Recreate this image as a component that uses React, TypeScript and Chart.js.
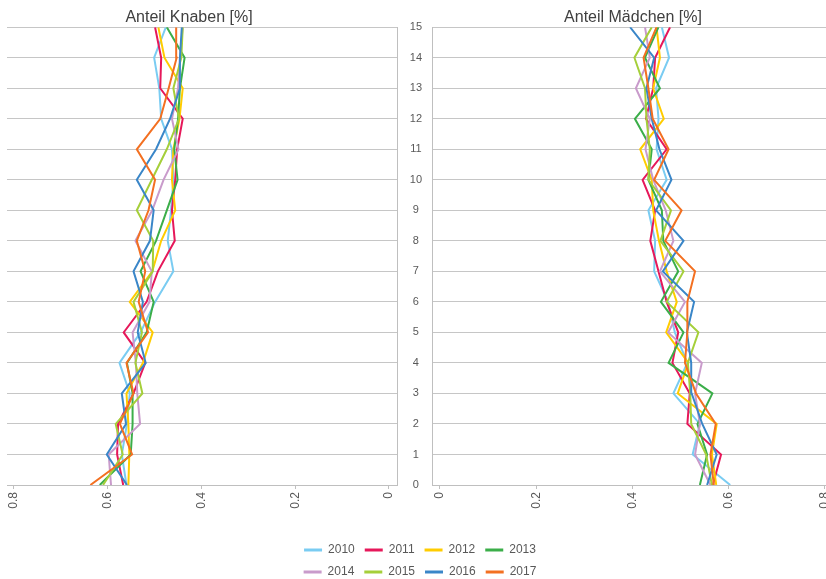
import React, { useEffect, useRef } from "react";
import { Chart, registerables } from "chart.js";

Chart.register(...registerables);

// ---- data ----
const years = ["2010", "2011", "2012", "2013", "2014", "2015", "2016", "2017"];
const colors = ["#7ACCF2", "#E6185A", "#FFCC00", "#3BAE49", "#C99BCB", "#A5CF3A", "#3A86C8", "#F37021"];
const ages = [0, 1, 2, 3, 4, 5, 6, 7, 8, 9, 10, 11, 12, 13, 14, 15];
const xTickValues = [0, 0.2, 0.4, 0.6, 0.8];

// Anteil Knaben [%] by age 0..15
const boys2010 = [0.56, 0.57, 0.559, 0.553, 0.575, 0.53, 0.499, 0.46, 0.472, 0.465, 0.46, 0.463, 0.486, 0.49, 0.501, 0.476];
const boys2011 = [0.567, 0.58, 0.578, 0.545, 0.52, 0.566, 0.517, 0.493, 0.457, 0.463, 0.456, 0.452, 0.44, 0.488, 0.486, 0.499];
const boys2012 = [0.556, 0.554, 0.556, 0.56, 0.525, 0.504, 0.553, 0.505, 0.486, 0.456, 0.463, 0.46, 0.447, 0.44, 0.479, 0.492];
const boys2013 = [0.617, 0.551, 0.547, 0.547, 0.559, 0.517, 0.502, 0.53, 0.497, 0.474, 0.451, 0.458, 0.45, 0.446, 0.436, 0.474];
const boys2014 = [0.593, 0.598, 0.531, 0.537, 0.54, 0.547, 0.511, 0.506, 0.541, 0.505, 0.481, 0.449, 0.463, 0.45, 0.446, 0.44];
const boys2015 = [0.61, 0.568, 0.583, 0.526, 0.541, 0.527, 0.545, 0.504, 0.503, 0.538, 0.506, 0.474, 0.448, 0.46, 0.443, 0.44];
const boys2016 = [0.559, 0.602, 0.561, 0.57, 0.519, 0.536, 0.525, 0.545, 0.51, 0.502, 0.538, 0.497, 0.467, 0.446, 0.446, 0.442];
const boys2017 = [0.637, 0.548, 0.574, 0.545, 0.56, 0.514, 0.534, 0.52, 0.538, 0.513, 0.499, 0.538, 0.488, 0.47, 0.453, 0.454];

// Anteil Mädchen [%] by age 0..15
const girls2010 = [0.603, 0.525, 0.54, 0.485, 0.514, 0.488, 0.474, 0.445, 0.447, 0.433, 0.471, 0.45, 0.454, 0.449, 0.476, 0.461];
const girls2011 = [0.567, 0.584, 0.514, 0.519, 0.483, 0.495, 0.471, 0.454, 0.437, 0.447, 0.421, 0.471, 0.428, 0.443, 0.447, 0.478];
const girls2012 = [0.574, 0.565, 0.575, 0.494, 0.516, 0.47, 0.492, 0.471, 0.455, 0.443, 0.44, 0.416, 0.465, 0.443, 0.457, 0.45];
const girls2013 = [0.54, 0.555, 0.535, 0.566, 0.475, 0.506, 0.459, 0.495, 0.464, 0.461, 0.433, 0.44, 0.405, 0.457, 0.426, 0.454];
const girls2014 = [0.562, 0.53, 0.54, 0.53, 0.544, 0.474, 0.509, 0.457, 0.485, 0.469, 0.443, 0.427, 0.436, 0.407, 0.436, 0.426];
const girls2015 = [0.565, 0.553, 0.522, 0.52, 0.515, 0.537, 0.471, 0.506, 0.458, 0.48, 0.433, 0.436, 0.429, 0.426, 0.404, 0.44];
const girls2016 = [0.555, 0.575, 0.545, 0.523, 0.522, 0.513, 0.528, 0.463, 0.506, 0.449, 0.481, 0.456, 0.44, 0.429, 0.445, 0.395];
const girls2017 = [0.569, 0.562, 0.573, 0.532, 0.509, 0.514, 0.514, 0.53, 0.468, 0.502, 0.445, 0.475, 0.442, 0.433, 0.423, 0.45];

const boysSeries = [boys2010, boys2011, boys2012, boys2013, boys2014, boys2015, boys2016, boys2017];
const girlsSeries = [girls2010, girls2011, girls2012, girls2013, girls2014, girls2015, girls2016, girls2017];

Chart.defaults.font.family = "'Liberation Sans', Arial, sans-serif";

const GRID = "#c6c6c6";
const AXIS = "#bfbfbf";
const TICK = "#595959";

function makeDatasets(series: number[][]) {
  return years.map((yr, i) => ({
    label: yr,
    data: ages.map((a, j) => ({ x: series[i][j], y: a })),
    borderColor: colors[i],
    backgroundColor: colors[i],
    borderWidth: 2,
    pointRadius: 0,
    tension: 0,
    fill: false,
    order: years.length - 1 - i,
  }));
}

function xScale(reverse: boolean, min: number, max: number) {
  return {
    type: "linear",
    reverse,
    min,
    max,
    afterBuildTicks: (s: any) => {
      s.ticks = xTickValues.map((v) => ({ value: v }));
    },
    afterFit: (s: any) => {
      s.height = 45;
      s.paddingLeft = 0;
      s.paddingRight = 0;
    },
    grid: { drawOnChartArea: false, drawTicks: true, tickLength: 4, color: AXIS },
    border: { display: true, color: AXIS },
    ticks: { color: TICK, font: { size: 12 }, minRotation: 90, maxRotation: 90, padding: 3, autoSkip: false },
  };
}

function titleOpts(text: string) {
  return {
    display: true,
    text,
    color: "#404040",
    font: { size: 16, weight: "normal" },
    padding: { top: 8, bottom: 0 },
  };
}

export default function App() {
  const leftRef = useRef<HTMLCanvasElement>(null);
  const rightRef = useRef<HTMLCanvasElement>(null);
  const legRef = useRef<HTMLCanvasElement>(null);

  useEffect(() => {
    document.body.style.margin = "0";
    const left = new Chart(leftRef.current as HTMLCanvasElement, {
      type: "line",
      data: { datasets: makeDatasets(boysSeries) as any },
      options: {
        responsive: false,
        animation: false,
        events: [],
        layout: { padding: 0 },
        scales: {
          x: xScale(true, -0.0171, 0.8149) as any,
          y: {
            type: "linear",
            position: "right",
            min: 0,
            max: 15,
            afterBuildTicks: (s: any) => {
              s.ticks = ages.map((v) => ({ value: v }));
            },
            afterFit: (s: any) => {
              s.width = 3;
            },
            grid: { color: GRID, drawTicks: false },
            border: { display: true, color: AXIS },
            ticks: { display: false },
          },
          pad: {
            type: "linear",
            position: "left",
            grid: { display: false },
            border: { display: false },
            ticks: { display: false },
            afterFit: (s: any) => {
              s.width = 29;
            },
          },
        },
        plugins: {
          legend: { display: false },
          tooltip: { enabled: false },
          title: titleOpts("Anteil Knaben [%]") as any,
        },
      },
    });

    const right = new Chart(rightRef.current as HTMLCanvasElement, {
      type: "line",
      data: { datasets: makeDatasets(girlsSeries) as any },
      options: {
        responsive: false,
        animation: false,
        events: [],
        layout: { padding: 0 },
        scales: {
          x: xScale(false, -0.01662, 0.8852) as any,
          y: {
            type: "linear",
            position: "left",
            min: 0,
            max: 15,
            afterBuildTicks: (s: any) => {
              s.ticks = ages.map((v) => ({ value: v }));
            },
            afterFit: (s: any) => {
              s.width = 32;
            },
            grid: { color: GRID, drawTicks: false },
            border: { display: true, color: AXIS },
            ticks: { color: TICK, font: { size: 11 }, crossAlign: "center", padding: 10 },
          },
        },
        plugins: {
          legend: { display: false },
          tooltip: { enabled: false },
          title: titleOpts("Anteil Mädchen [%]") as any,
        },
      },
    });

    const legend = new Chart(legRef.current as HTMLCanvasElement, {
      type: "line",
      data: {
        datasets: years.map((yr, i) => ({
          label: yr,
          data: [],
          borderColor: colors[i],
          backgroundColor: colors[i],
          borderWidth: 2,
        })),
      },
      options: {
        responsive: false,
        animation: false,
        events: [],
        layout: { padding: 0 },
        scales: { x: { display: false }, y: { display: false } },
        plugins: {
          tooltip: { enabled: false },
          title: { display: false },
          legend: {
            display: true,
            position: "top",
            align: "center",
            maxHeight: 100,
            labels: {
              boxWidth: 18,
              boxHeight: 3,
              padding: 10,
              color: TICK,
              font: { size: 12 },
              generateLabels: (chart: any) =>
                (Chart.defaults.plugins.legend.labels.generateLabels as any)(chart).map((l: any) => ({
                  ...l,
                  lineWidth: 0,
                })),
            },
          },
        },
      },
    });

    return () => {
      left.destroy();
      right.destroy();
      legend.destroy();
    };
  }, []);

  return (
    <div
      style={{
        position: "absolute",
        left: 0,
        top: 0,
        width: 826,
        height: 579,
        overflow: "hidden",
        background: "#fff",
      }}
    >
      <canvas ref={leftRef} width={422} height={530} style={{ position: "absolute", left: -22, top: 0 }} />
      <canvas ref={rightRef} width={466} height={530} style={{ position: "absolute", left: 400, top: 0 }} />
      <canvas ref={legRef} width={300} height={160} style={{ position: "absolute", left: 270, top: 534 }} />
    </div>
  );
}
